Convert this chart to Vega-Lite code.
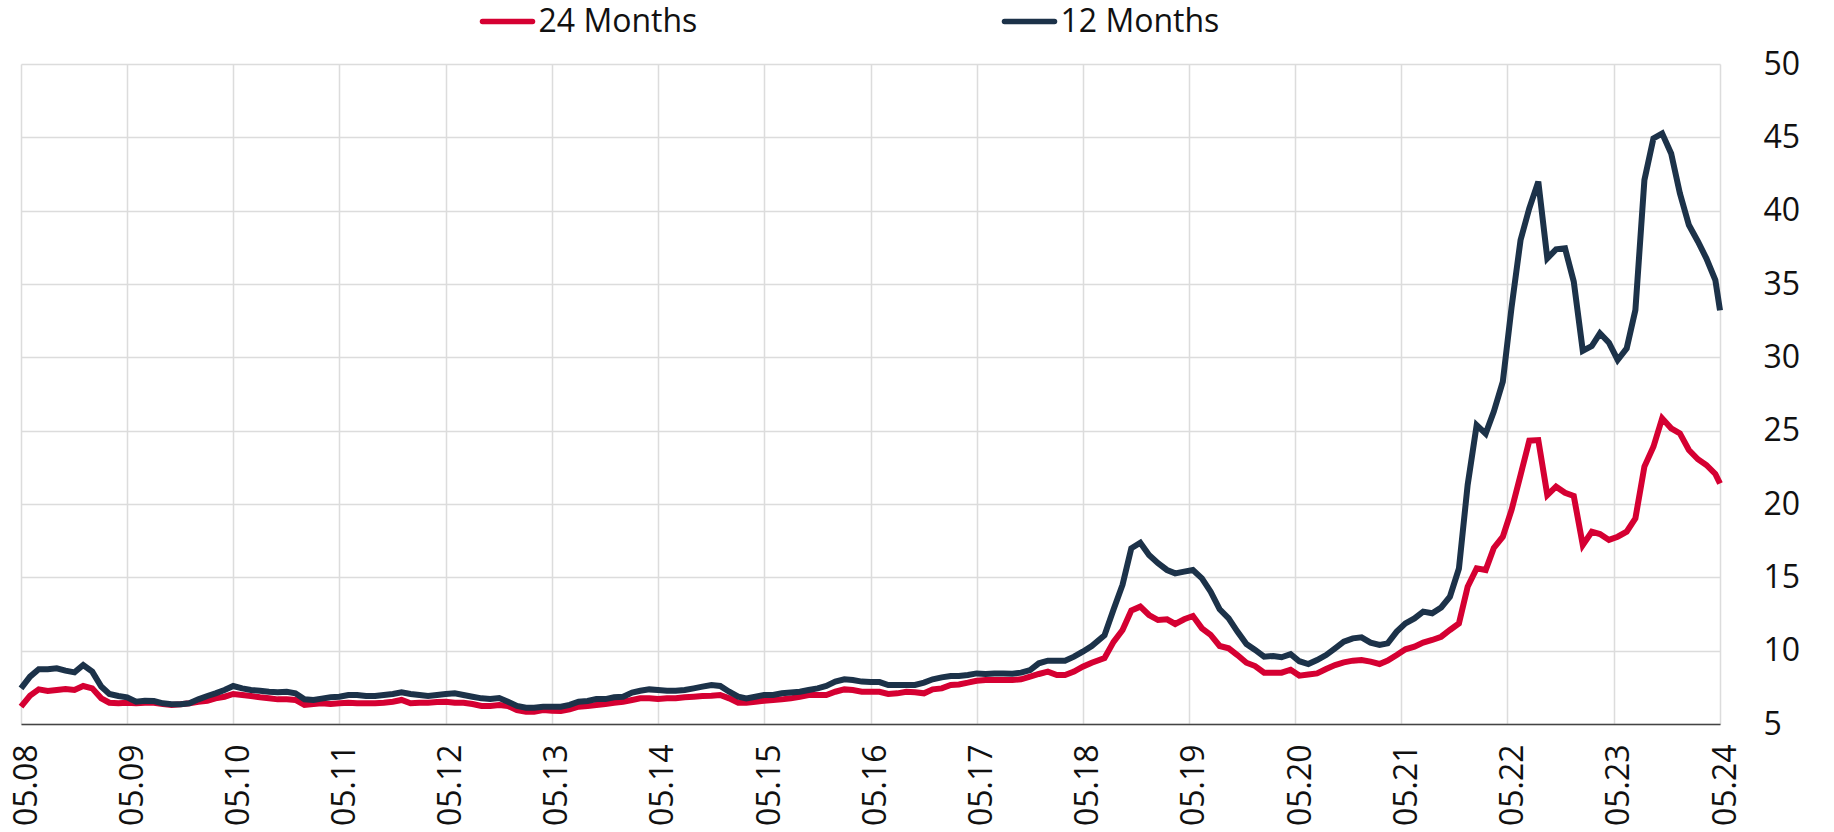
{
"$schema": "https://vega.github.io/schema/vega-lite/v6.json",
"width": 1699, "height": 660,
"autosize": {"type": "none"},
"padding": {"left": 21, "top": 64, "right": 114, "bottom": 108},
"background": "white",
"config": {"view": {"stroke": null}, "font": "Open Sans"},
"data": {"values": [
{"d":"2008-05-01","24 Months":6.18,"12 Months":7.43},
{"d":"2008-06-01","24 Months":6.93,"12 Months":8.23},
{"d":"2008-07-01","24 Months":7.36,"12 Months":8.73},
{"d":"2008-08-01","24 Months":7.25,"12 Months":8.73},
{"d":"2008-09-01","24 Months":7.32,"12 Months":8.80},
{"d":"2008-10-01","24 Months":7.39,"12 Months":8.64},
{"d":"2008-11-01","24 Months":7.32,"12 Months":8.52},
{"d":"2008-12-01","24 Months":7.59,"12 Months":9.02},
{"d":"2009-01-01","24 Months":7.43,"12 Months":8.57},
{"d":"2009-02-01","24 Months":6.75,"12 Months":7.55},
{"d":"2009-03-01","24 Months":6.45,"12 Months":7.05},
{"d":"2009-04-01","24 Months":6.41,"12 Months":6.91},
{"d":"2009-05-01","24 Months":6.45,"12 Months":6.82},
{"d":"2009-06-01","24 Months":6.41,"12 Months":6.52},
{"d":"2009-07-01","24 Months":6.45,"12 Months":6.59},
{"d":"2009-08-01","24 Months":6.45,"12 Months":6.57},
{"d":"2009-09-01","24 Months":6.36,"12 Months":6.41},
{"d":"2009-10-01","24 Months":6.30,"12 Months":6.34},
{"d":"2009-11-01","24 Months":6.34,"12 Months":6.34},
{"d":"2009-12-01","24 Months":6.41,"12 Months":6.41},
{"d":"2010-01-01","24 Months":6.52,"12 Months":6.68},
{"d":"2010-02-01","24 Months":6.59,"12 Months":6.91},
{"d":"2010-03-01","24 Months":6.75,"12 Months":7.09},
{"d":"2010-04-01","24 Months":6.86,"12 Months":7.32},
{"d":"2010-05-01","24 Months":7.05,"12 Months":7.59},
{"d":"2010-06-01","24 Months":6.98,"12 Months":7.43},
{"d":"2010-07-01","24 Months":6.91,"12 Months":7.32},
{"d":"2010-08-01","24 Months":6.82,"12 Months":7.27},
{"d":"2010-09-01","24 Months":6.75,"12 Months":7.20},
{"d":"2010-10-01","24 Months":6.68,"12 Months":7.16},
{"d":"2010-11-01","24 Months":6.68,"12 Months":7.20},
{"d":"2010-12-01","24 Months":6.64,"12 Months":7.09},
{"d":"2011-01-01","24 Months":6.30,"12 Months":6.68},
{"d":"2011-02-01","24 Months":6.36,"12 Months":6.64},
{"d":"2011-03-01","24 Months":6.41,"12 Months":6.73},
{"d":"2011-04-01","24 Months":6.36,"12 Months":6.82},
{"d":"2011-05-01","24 Months":6.41,"12 Months":6.86},
{"d":"2011-06-01","24 Months":6.45,"12 Months":6.98},
{"d":"2011-07-01","24 Months":6.41,"12 Months":6.98},
{"d":"2011-08-01","24 Months":6.41,"12 Months":6.91},
{"d":"2011-09-01","24 Months":6.41,"12 Months":6.91},
{"d":"2011-10-01","24 Months":6.45,"12 Months":6.98},
{"d":"2011-11-01","24 Months":6.52,"12 Months":7.05},
{"d":"2011-12-01","24 Months":6.64,"12 Months":7.16},
{"d":"2012-01-01","24 Months":6.41,"12 Months":7.05},
{"d":"2012-02-01","24 Months":6.45,"12 Months":6.98},
{"d":"2012-03-01","24 Months":6.45,"12 Months":6.91},
{"d":"2012-04-01","24 Months":6.50,"12 Months":6.98},
{"d":"2012-05-01","24 Months":6.52,"12 Months":7.05},
{"d":"2012-06-01","24 Months":6.45,"12 Months":7.09},
{"d":"2012-07-01","24 Months":6.45,"12 Months":6.98},
{"d":"2012-08-01","24 Months":6.36,"12 Months":6.86},
{"d":"2012-09-01","24 Months":6.23,"12 Months":6.75},
{"d":"2012-10-01","24 Months":6.23,"12 Months":6.70},
{"d":"2012-11-01","24 Months":6.30,"12 Months":6.77},
{"d":"2012-12-01","24 Months":6.23,"12 Months":6.52},
{"d":"2013-01-01","24 Months":5.95,"12 Months":6.23},
{"d":"2013-02-01","24 Months":5.84,"12 Months":6.11},
{"d":"2013-03-01","24 Months":5.84,"12 Months":6.11},
{"d":"2013-04-01","24 Months":5.95,"12 Months":6.18},
{"d":"2013-05-01","24 Months":5.91,"12 Months":6.18},
{"d":"2013-06-01","24 Months":5.89,"12 Months":6.18},
{"d":"2013-07-01","24 Months":6.00,"12 Months":6.30},
{"d":"2013-08-01","24 Months":6.18,"12 Months":6.52},
{"d":"2013-09-01","24 Months":6.23,"12 Months":6.57},
{"d":"2013-10-01","24 Months":6.30,"12 Months":6.70},
{"d":"2013-11-01","24 Months":6.36,"12 Months":6.70},
{"d":"2013-12-01","24 Months":6.45,"12 Months":6.82},
{"d":"2014-01-01","24 Months":6.52,"12 Months":6.86},
{"d":"2014-02-01","24 Months":6.64,"12 Months":7.14},
{"d":"2014-03-01","24 Months":6.75,"12 Months":7.27},
{"d":"2014-04-01","24 Months":6.75,"12 Months":7.36},
{"d":"2014-05-01","24 Months":6.70,"12 Months":7.32},
{"d":"2014-06-01","24 Months":6.75,"12 Months":7.27},
{"d":"2014-07-01","24 Months":6.75,"12 Months":7.27},
{"d":"2014-08-01","24 Months":6.82,"12 Months":7.32},
{"d":"2014-09-01","24 Months":6.86,"12 Months":7.43},
{"d":"2014-10-01","24 Months":6.91,"12 Months":7.55},
{"d":"2014-11-01","24 Months":6.93,"12 Months":7.66},
{"d":"2014-12-01","24 Months":6.98,"12 Months":7.59},
{"d":"2015-01-01","24 Months":6.75,"12 Months":7.20},
{"d":"2015-02-01","24 Months":6.45,"12 Months":6.86},
{"d":"2015-03-01","24 Months":6.45,"12 Months":6.75},
{"d":"2015-04-01","24 Months":6.52,"12 Months":6.86},
{"d":"2015-05-01","24 Months":6.59,"12 Months":6.98},
{"d":"2015-06-01","24 Months":6.64,"12 Months":6.98},
{"d":"2015-07-01","24 Months":6.68,"12 Months":7.09},
{"d":"2015-08-01","24 Months":6.75,"12 Months":7.14},
{"d":"2015-09-01","24 Months":6.86,"12 Months":7.20},
{"d":"2015-10-01","24 Months":6.98,"12 Months":7.32},
{"d":"2015-11-01","24 Months":6.98,"12 Months":7.43},
{"d":"2015-12-01","24 Months":6.98,"12 Months":7.59},
{"d":"2016-01-01","24 Months":7.20,"12 Months":7.89},
{"d":"2016-02-01","24 Months":7.36,"12 Months":8.05},
{"d":"2016-03-01","24 Months":7.32,"12 Months":8.00},
{"d":"2016-04-01","24 Months":7.20,"12 Months":7.89},
{"d":"2016-05-01","24 Months":7.20,"12 Months":7.87},
{"d":"2016-06-01","24 Months":7.20,"12 Months":7.86},
{"d":"2016-07-01","24 Months":7.05,"12 Months":7.66},
{"d":"2016-08-01","24 Months":7.09,"12 Months":7.66},
{"d":"2016-09-01","24 Months":7.20,"12 Months":7.66},
{"d":"2016-10-01","24 Months":7.16,"12 Months":7.66},
{"d":"2016-11-01","24 Months":7.09,"12 Months":7.82},
{"d":"2016-12-01","24 Months":7.36,"12 Months":8.05},
{"d":"2017-01-01","24 Months":7.43,"12 Months":8.18},
{"d":"2017-02-01","24 Months":7.66,"12 Months":8.27},
{"d":"2017-03-01","24 Months":7.70,"12 Months":8.27},
{"d":"2017-04-01","24 Months":7.82,"12 Months":8.34},
{"d":"2017-05-01","24 Months":7.95,"12 Months":8.45},
{"d":"2017-06-01","24 Months":8.00,"12 Months":8.41},
{"d":"2017-07-01","24 Months":8.00,"12 Months":8.45},
{"d":"2017-08-01","24 Months":8.00,"12 Months":8.45},
{"d":"2017-09-01","24 Months":8.00,"12 Months":8.43},
{"d":"2017-10-01","24 Months":8.05,"12 Months":8.50},
{"d":"2017-11-01","24 Months":8.23,"12 Months":8.68},
{"d":"2017-12-01","24 Months":8.41,"12 Months":9.14},
{"d":"2018-01-01","24 Months":8.57,"12 Months":9.32},
{"d":"2018-02-01","24 Months":8.34,"12 Months":9.32},
{"d":"2018-03-01","24 Months":8.34,"12 Months":9.32},
{"d":"2018-04-01","24 Months":8.57,"12 Months":9.59},
{"d":"2018-05-01","24 Months":8.91,"12 Months":9.93},
{"d":"2018-06-01","24 Months":9.18,"12 Months":10.32},
{"d":"2018-07-15","24 Months":9.50,"12 Months":11.05},
{"d":"2018-08-15","24 Months":10.60,"12 Months":12.80},
{"d":"2018-09-15","24 Months":11.41,"12 Months":14.50},
{"d":"2018-10-15","24 Months":12.73,"12 Months":16.98},
{"d":"2018-11-15","24 Months":13.00,"12 Months":17.36},
{"d":"2018-12-15","24 Months":12.43,"12 Months":16.52},
{"d":"2019-01-15","24 Months":12.09,"12 Months":15.96},
{"d":"2019-02-15","24 Months":12.14,"12 Months":15.50},
{"d":"2019-03-15","24 Months":11.82,"12 Months":15.27},
{"d":"2019-04-15","24 Months":12.14,"12 Months":15.39},
{"d":"2019-05-15","24 Months":12.36,"12 Months":15.50},
{"d":"2019-06-15","24 Months":11.52,"12 Months":14.93},
{"d":"2019-07-15","24 Months":11.07,"12 Months":14.02},
{"d":"2019-08-15","24 Months":10.32,"12 Months":12.82},
{"d":"2019-09-15","24 Months":10.16,"12 Months":12.20},
{"d":"2019-10-15","24 Months":9.70,"12 Months":11.30},
{"d":"2019-11-15","24 Months":9.18,"12 Months":10.45},
{"d":"2019-12-15","24 Months":8.95,"12 Months":10.05},
{"d":"2020-01-15","24 Months":8.50,"12 Months":9.59},
{"d":"2020-02-15","24 Months":8.50,"12 Months":9.64},
{"d":"2020-03-15","24 Months":8.50,"12 Months":9.55},
{"d":"2020-04-15","24 Months":8.70,"12 Months":9.76},
{"d":"2020-05-15","24 Months":8.30,"12 Months":9.28},
{"d":"2020-06-15","24 Months":8.38,"12 Months":9.09},
{"d":"2020-07-15","24 Months":8.45,"12 Months":9.36},
{"d":"2020-08-15","24 Months":8.75,"12 Months":9.70},
{"d":"2020-09-15","24 Months":9.02,"12 Months":10.16},
{"d":"2020-10-15","24 Months":9.20,"12 Months":10.61},
{"d":"2020-11-15","24 Months":9.32,"12 Months":10.84},
{"d":"2020-12-15","24 Months":9.36,"12 Months":10.91},
{"d":"2021-01-15","24 Months":9.25,"12 Months":10.55},
{"d":"2021-02-15","24 Months":9.09,"12 Months":10.39},
{"d":"2021-03-15","24 Months":9.32,"12 Months":10.50},
{"d":"2021-04-15","24 Months":9.70,"12 Months":11.30},
{"d":"2021-05-15","24 Months":10.09,"12 Months":11.86},
{"d":"2021-06-15","24 Months":10.27,"12 Months":12.20},
{"d":"2021-07-15","24 Months":10.55,"12 Months":12.66},
{"d":"2021-08-15","24 Months":10.73,"12 Months":12.55},
{"d":"2021-09-15","24 Months":10.95,"12 Months":12.95},
{"d":"2021-10-15","24 Months":11.41,"12 Months":13.68},
{"d":"2021-11-15","24 Months":11.86,"12 Months":15.60},
{"d":"2021-12-15","24 Months":14.36,"12 Months":21.30},
{"d":"2022-01-15","24 Months":15.61,"12 Months":25.38},
{"d":"2022-02-15","24 Months":15.50,"12 Months":24.80},
{"d":"2022-03-15","24 Months":17.00,"12 Months":26.30},
{"d":"2022-04-15","24 Months":17.77,"12 Months":28.34},
{"d":"2022-05-15","24 Months":19.59,"12 Months":33.40},
{"d":"2022-06-15","24 Months":21.98,"12 Months":38.00},
{"d":"2022-07-15","24 Months":24.32,"12 Months":40.16},
{"d":"2022-08-15","24 Months":24.36,"12 Months":41.98},
{"d":"2022-09-15","24 Months":20.61,"12 Months":36.75},
{"d":"2022-10-15","24 Months":21.18,"12 Months":37.36},
{"d":"2022-11-15","24 Months":20.77,"12 Months":37.43},
{"d":"2022-12-15","24 Months":20.55,"12 Months":35.16},
{"d":"2023-01-15","24 Months":17.20,"12 Months":30.45},
{"d":"2023-02-15","24 Months":18.11,"12 Months":30.77},
{"d":"2023-03-15","24 Months":17.95,"12 Months":31.64},
{"d":"2023-04-15","24 Months":17.55,"12 Months":31.00},
{"d":"2023-05-15","24 Months":17.77,"12 Months":29.82},
{"d":"2023-06-15","24 Months":18.11,"12 Months":30.61},
{"d":"2023-07-15","24 Months":19.02,"12 Months":33.23},
{"d":"2023-08-15","24 Months":22.55,"12 Months":42.09},
{"d":"2023-09-15","24 Months":23.90,"12 Months":44.93},
{"d":"2023-10-15","24 Months":25.84,"12 Months":45.27},
{"d":"2023-11-15","24 Months":25.16,"12 Months":43.90},
{"d":"2023-12-15","24 Months":24.82,"12 Months":41.18},
{"d":"2024-01-15","24 Months":23.68,"12 Months":39.02},
{"d":"2024-02-15","24 Months":23.05,"12 Months":37.90},
{"d":"2024-03-15","24 Months":22.66,"12 Months":36.75},
{"d":"2024-04-15","24 Months":22.05,"12 Months":35.27},
{"d":"2024-05-01","24 Months":21.40,"12 Months":33.20}
]},
"transform": [{"fold": ["24 Months", "12 Months"], "as": ["series", "value"]}],
"mark": {"type": "line", "strokeWidth": 6},
"encoding": {
  "x": {"field": "d", "type": "temporal",
    "scale": {"type": "utc", "domain": [{"year": 2008, "month": 5, "date": 1, "utc": true}, {"year": 2024, "month": 5, "date": 1, "utc": true}]},
    "axis": {"title": null, "format": "%m.%y", "labelAngle": -90, "labelFontSize": 32, "labelFont": "Open Sans", "labelColor": "#111111", "labelPadding": 20, "labelOffset": 5, "ticks": false, "grid": true, "gridColor": "#dcdcdc", "gridWidth": 1.5, "domainColor": "#444444", "domainWidth": 1.5, "labelOverlap": false, "labelFlush": false, "labelBound": false,
      "values": [
        {"year": 2008, "month": 5, "date": 1, "utc": true}, {"year": 2009, "month": 5, "date": 1, "utc": true}, {"year": 2010, "month": 5, "date": 1, "utc": true}, {"year": 2011, "month": 5, "date": 1, "utc": true}, {"year": 2012, "month": 5, "date": 1, "utc": true}, {"year": 2013, "month": 5, "date": 1, "utc": true}, {"year": 2014, "month": 5, "date": 1, "utc": true}, {"year": 2015, "month": 5, "date": 1, "utc": true}, {"year": 2016, "month": 5, "date": 1, "utc": true}, {"year": 2017, "month": 5, "date": 1, "utc": true}, {"year": 2018, "month": 5, "date": 1, "utc": true}, {"year": 2019, "month": 5, "date": 1, "utc": true}, {"year": 2020, "month": 5, "date": 1, "utc": true}, {"year": 2021, "month": 5, "date": 1, "utc": true}, {"year": 2022, "month": 5, "date": 1, "utc": true}, {"year": 2023, "month": 5, "date": 1, "utc": true}, {"year": 2024, "month": 5, "date": 1, "utc": true}
      ]}},
  "y": {"field": "value", "type": "quantitative",
    "scale": {"domain": [5, 50], "nice": false, "zero": false},
    "axis": {"title": null, "orient": "right", "values": [5, 10, 15, 20, 25, 30, 35, 40, 45, 50], "labelFontSize": 32, "labelFont": "Open Sans", "labelColor": "#111111", "labelPadding": 43, "ticks": false, "domain": false, "grid": true, "gridColor": "#dcdcdc", "gridWidth": 1.5, "labelAlign": "left"}},
  "color": {"field": "series", "type": "nominal",
    "scale": {"domain": ["24 Months", "12 Months"], "range": ["#d50032", "#1c3249"]},
    "legend": {"title": null, "orient": "none", "legendX": 458.5, "legendY": -70.5, "direction": "horizontal", "columns": 2, "symbolType": "stroke", "symbolSize": 2500, "symbolStrokeWidth": 5.5, "labelFontSize": 32, "labelFont": "Open Sans", "labelColor": "#111111", "labelOffset": 3, "labelLimit": 400, "columnPadding": 296, "padding": 0,
      "encode": {"symbols": {"update": {"strokeCap": {"value": "round"}}}}}}
}
}
